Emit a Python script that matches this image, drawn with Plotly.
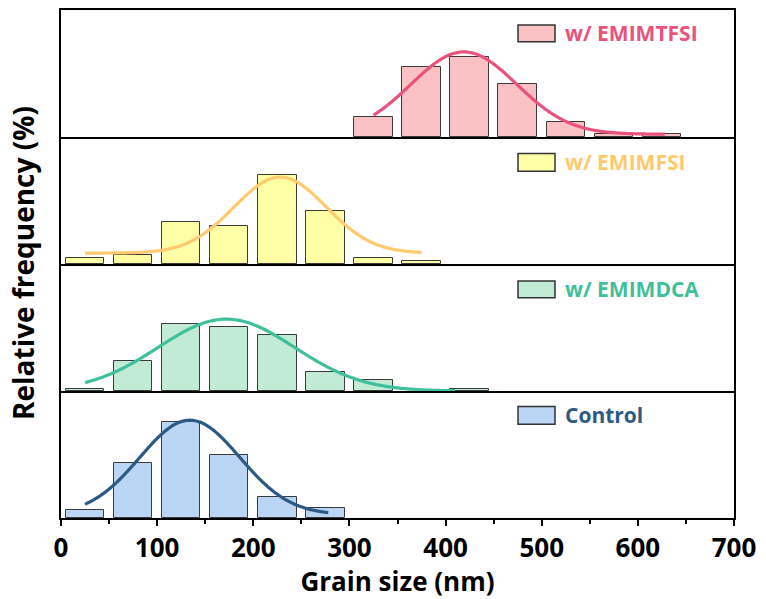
import numpy as np
import plotly.graph_objects as go
from plotly.subplots import make_subplots

# ---------------- data ----------------
names = ["w/ EMIMTFSI", "w/ EMIMFSI", "w/ EMIMDCA", "Control"]

tfsi_x = [325, 375, 425, 475, 525, 575, 625]
tfsi_y = [7.8, 27.5, 31.6, 20.8, 5.8, 1.3, 1.3]

fsi_x = [25, 75, 125, 175, 225, 275, 325, 375]
fsi_y = [2.5, 3.6, 16.4, 15.1, 34.9, 20.8, 2.5, 1.3]

dca_x = [25, 75, 125, 175, 225, 275, 325, 425]
dca_y = [0.7, 11.9, 26.3, 25.2, 21.9, 7.6, 4.3, 0.7]

ctrl_x = [25, 75, 125, 175, 225, 275]
ctrl_y = [3.0, 21.5, 37.9, 24.9, 8.3, 4.0]

# Gaussian fit parameters: (mu, sigma, amplitude, offset, x_start, x_end)
tfsi_fit = (419, 55, 32.4, 1.1, 325, 628)
fsi_fit = (228, 48, 29.9, 4.3, 25, 375)
dca_fit = (172, 71, 28.3, 0.0, 25, 410)
ctrl_fit = (134, 52, 37.2, 1.3, 25, 278)

x_ticks = [0, 100, 200, 300, 400, 500, 600, 700]

fills = ["#F9C1C4", "#FFFFA8", "#C2EBD5", "#BBD5F4"]
lines = ["#E8527C", "#FFC96E", "#3FBF9B", "#2C5A85"]

series = [
    (tfsi_x, tfsi_y, tfsi_fit),
    (fsi_x, fsi_y, fsi_fit),
    (dca_x, dca_y, dca_fit),
    (ctrl_x, ctrl_y, ctrl_fit),
]

FONT = "Open Sans"

fig = make_subplots(rows=4, cols=1, shared_xaxes=True, vertical_spacing=0)

for i, (bx, by, fit) in enumerate(series):
    row = i + 1
    fig.add_trace(
        go.Bar(
            x=bx, y=by, width=40, name=names[i],
            marker=dict(color=fills[i], line=dict(color="#3a3a3a", width=1)),
            showlegend=False,
        ),
        row=row, col=1,
    )
    mu, sd, amp, off, xs, xe = fit
    cx = np.linspace(xs, xe, 200)
    cy = off + amp * np.exp(-((cx - mu) ** 2) / (2 * sd ** 2))
    fig.add_trace(
        go.Scatter(
            x=cx, y=cy, mode="lines", name=names[i] + " fit",
            line=dict(color=lines[i], width=3.2, shape="spline"),
            showlegend=False,
        ),
        row=row, col=1,
    )

# axes
for r in range(1, 5):
    fig.update_yaxes(
        range=[0, 50], showline=True, mirror=True, linecolor="black", linewidth=2,
        showgrid=False, zeroline=False, showticklabels=False, ticks="",
        row=r, col=1,
    )
    fig.update_xaxes(
        range=[0, 700], showline=True, mirror=(r == 1), linecolor="black", linewidth=2,
        showgrid=False, zeroline=False,
        row=r, col=1,
    )
for r in range(1, 4):
    fig.update_xaxes(showticklabels=False, ticks="", row=r, col=1)

fig.update_xaxes(
    tickvals=x_ticks, ticktext=[str(v) for v in x_ticks],
    ticks="outside", ticklen=6, tickwidth=2, tickcolor="black",
    minor=dict(ticks="outside", ticklen=4, tickwidth=1.5, dtick=50, tick0=0, tickcolor="black"),
    tickfont=dict(family=FONT, size=26, color="black", weight="bold"),
    title=dict(text="Grain size (nm)", standoff=3,
               font=dict(family=FONT, size=26, color="black", weight="bold")),
    row=4, col=1,
)

# legend swatches and labels (per panel)
L, R, T, B = 61, 734, 8, 518
W, H = R - L, B - T
def px(xp):
    return (xp - L) / W
def py(yp):
    return (B - yp) / H

legend_rows = [(23, 40), (152, 170), (280, 297), (406, 424)]
for i, (y0, y1) in enumerate(legend_rows):
    fig.add_shape(type="rect", xref="paper", yref="paper",
                  x0=px(518), x1=px(555), y0=py(y1), y1=py(y0),
                  fillcolor=fills[i], line=dict(color="#333333", width=1.5))
    fig.add_annotation(xref="paper", yref="paper", x=px(563), y=py((y0 + y1) / 2),
                       xanchor="left", yanchor="middle", showarrow=False,
                       text=names[i],
                       font=dict(family=FONT, size=21, color=lines[i], weight="bold"))

fig.add_annotation(xref="paper", yref="paper", x=px(23), y=py(262),
                   xanchor="center", yanchor="middle", showarrow=False, textangle=-90,
                   text="Relative frequency (%)",
                   font=dict(family=FONT, size=28, color="black", weight="bold"))

fig.update_layout(
    width=766, height=599,
    margin=dict(l=L, r=766 - R, t=T, b=599 - B),
    paper_bgcolor="white", plot_bgcolor="white",
    bargap=0,
    showlegend=False,
)

fig.write_html("out.html")
